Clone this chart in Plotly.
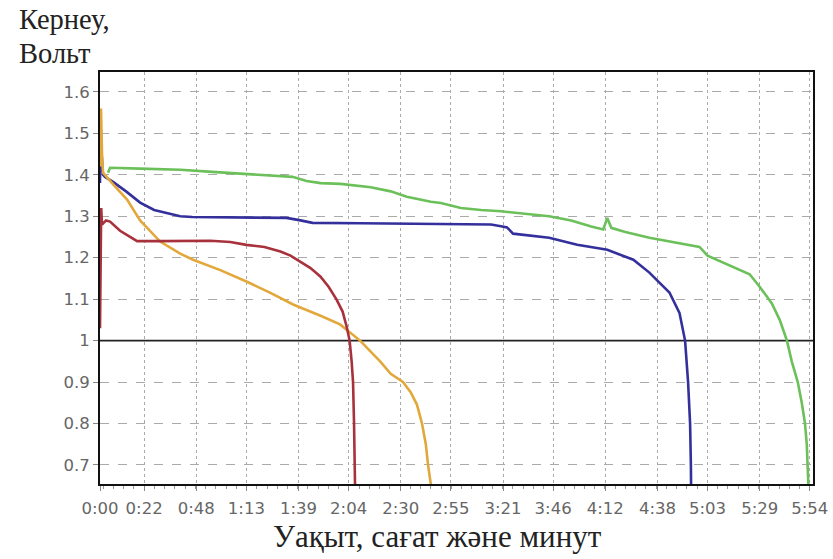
import plotly.graph_objects as go

# Time in minutes, voltage in volts
green_t = [4, 5, 20, 40, 56, 73, 90, 96, 103, 110, 120, 130, 135, 145, 153, 165, 170, 180, 190, 200,
           215, 224, 235, 245, 251, 253, 255, 262, 274, 290, 299, 303, 310, 316, 324, 329, 335, 339,
           342.6, 345, 348, 350, 351.6, 352.5, 353, 353.3]
green_v = [1.405, 1.417, 1.415, 1.412, 1.407, 1.402, 1.397, 1.395, 1.385, 1.38, 1.378, 1.373, 1.37,
           1.36, 1.347, 1.335, 1.332, 1.32, 1.315, 1.312, 1.305, 1.30, 1.29, 1.275, 1.268, 1.296,
           1.272, 1.262, 1.248, 1.235, 1.226, 1.205, 1.19, 1.178, 1.16, 1.13, 1.09, 1.05, 1.0, 0.95,
           0.9, 0.85, 0.8, 0.75, 0.70, 0.65]

blue_t = [0, 0.3, 0.8, 1.5, 2.5, 6.5, 13, 20, 27, 33, 40, 46, 70, 93, 100, 106, 130, 180, 195, 200,
          203, 206, 224, 238, 253, 266, 274, 279, 284, 289, 291.8, 293.3, 294.3, 294.7, 294.8]
blue_v = [1.38, 1.52, 1.45, 1.40, 1.395, 1.383, 1.36, 1.333, 1.315, 1.308, 1.30, 1.298, 1.297,
          1.296, 1.29, 1.284, 1.283, 1.282, 1.28, 1.276, 1.273, 1.258, 1.248, 1.231, 1.219, 1.195,
          1.164, 1.14, 1.116, 1.067, 1.0, 0.9, 0.8, 0.7, 0.65]

red_t = [0, 0.3, 0.6, 1.0, 3, 5, 10, 15, 18.5, 30, 55, 65, 73, 82, 90, 95, 100, 105, 110, 114, 118,
         121, 123, 124.5, 125.5, 126.2, 126.7, 127, 127.2]
red_v = [1.03, 1.25, 1.32, 1.28, 1.29, 1.287, 1.265, 1.25, 1.24, 1.24, 1.241, 1.238, 1.231, 1.226,
         1.215, 1.205, 1.19, 1.175, 1.154, 1.13, 1.099, 1.07, 1.034, 1.0, 0.95, 0.9, 0.8, 0.7, 0.65]

orange_t = [0, 0.5, 1, 1.5, 6, 13.5, 20, 30, 40, 46.4, 60, 73.3, 85, 96.3, 110, 119.7, 129.7, 139.7,
            145, 151.1, 155, 158.1, 160.6, 162.5, 163.6, 165.1]
orange_v = [1.42, 1.56, 1.45, 1.405, 1.38, 1.34, 1.29, 1.239, 1.21, 1.195, 1.17, 1.142, 1.115, 1.087,
            1.06, 1.039, 1.0, 0.95, 0.92, 0.90, 0.875, 0.845, 0.80, 0.75, 0.70, 0.65]

x_tick_minutes = [0, 22, 48, 73, 99, 124, 150, 175, 201, 226, 252, 278, 303, 329, 354]
x_tick_labels = ["0:00", "0:22", "0:48", "1:13", "1:39", "2:04", "2:30", "2:55", "3:21", "3:46",
                 "4:12", "4:38", "5:03", "5:29", "5:54"]
y_tick_values = [0.7, 0.8, 0.9, 1.0, 1.1, 1.2, 1.3, 1.4, 1.5, 1.6]
y_tick_labels = ["0.7", "0.8", "0.9", "1", "1.1", "1.2", "1.3", "1.4", "1.5", "1.6"]
ref_level = 1.0
x_range = [0, 355.6]
y_range = [0.654, 1.648]

fig = go.Figure()
# reference level line (drawn first so curves lie over it)
fig.add_trace(go.Scatter(x=x_range, y=[ref_level, ref_level], mode="lines",
                         line=dict(color="#222", width=1.6), showlegend=False, hoverinfo="skip"))
series = [
    (green_t, green_v, "#6cc05a"),
    (blue_t, blue_v, "#33309c"),
    (orange_t, orange_v, "#e2a83c"),
    (red_t, red_v, "#a8323c"),
]
for t, v, c in series:
    fig.add_trace(go.Scatter(x=t, y=v, mode="lines", line=dict(color=c, width=2.6),
                             showlegend=False, hoverinfo="x+y"))

tick_font = dict(family="DejaVu Sans", size=16.5, color="#666")
title_font = dict(family="Liberation Serif", size=31, color="#222")
ytitle_font = dict(family="Liberation Serif", size=28.5, color="#222")
fig.update_layout(
    width=833, height=559,
    margin=dict(l=100, r=20, t=72, b=75),
    paper_bgcolor="white", plot_bgcolor="white",
    font=dict(family="Liberation Serif"),
    xaxis=dict(range=x_range, tickmode="array", tickvals=x_tick_minutes, ticktext=x_tick_labels,
               automargin=False,
               showgrid=True, gridcolor="#aaa", griddash="dot", gridwidth=1,
               showline=True, linecolor="#111", linewidth=2, mirror=True,
               ticks="outside", ticklen=5, tickcolor="#888", tickfont=tick_font,
               ticklabelstandoff=3, zeroline=False,
               minor=dict(ticks="outside", ticklen=3, tickcolor="#999", tick0=22, dtick=5.108,
                          showgrid=False)),
    yaxis=dict(range=y_range, tickmode="array", tickvals=y_tick_values, ticktext=y_tick_labels,
               automargin=False,
               showgrid=True, gridcolor="#aaa", griddash="dash", gridwidth=1,
               showline=True, linecolor="#111", linewidth=2, mirror=True,
               ticks="outside", ticklen=5, tickcolor="#888", tickfont=tick_font, zeroline=False),
    annotations=[
        dict(text="Кернеу,", xref="paper", yref="paper", x=-0.117, y=1.127, xanchor="left",
             yanchor="middle", showarrow=False, font=ytitle_font),
        dict(text="Вольт", xref="paper", yref="paper", x=-0.117, y=1.045, xanchor="left",
             yanchor="middle", showarrow=False, font=ytitle_font),
        dict(text="Уақыт, сағат және минут", xref="paper", yref="paper", x=0.474, y=-0.128,
             xanchor="center", yanchor="middle", showarrow=False, font=title_font),
    ],
)

fig.write_html("out.html", config={"displayModeBar": False},
               post_script="document.body.style.margin='0';")
